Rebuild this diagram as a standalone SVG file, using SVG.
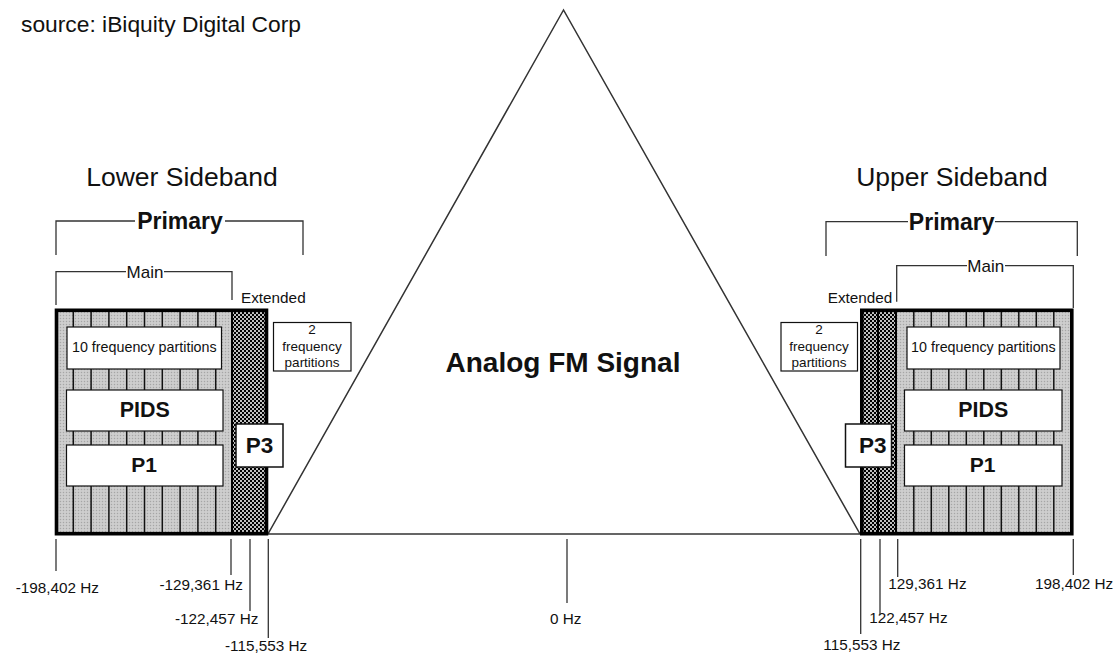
<svg xmlns="http://www.w3.org/2000/svg" width="1115" height="656" viewBox="0 0 1115 656">
<defs>
<pattern id="stipple" width="3" height="3" patternUnits="userSpaceOnUse">
<rect width="3" height="3" fill="#c8c8c8"/>
<rect x="0" y="0" width="1" height="1" fill="#a6a6a6"/>
<rect x="1.5" y="1.5" width="1" height="1" fill="#e2e2e2"/>
</pattern>
<pattern id="dots" width="4" height="4" patternUnits="userSpaceOnUse">
<rect width="4" height="4" fill="#000"/>
<circle cx="1" cy="1" r="1" fill="#fff"/>
<circle cx="3" cy="3" r="1" fill="#fff"/>
</pattern>
<style>
text{font-family:"Liberation Sans",Arial,sans-serif;fill:#111}
.b{font-weight:bold}
.mid{text-anchor:middle}
.ln{stroke:#333;stroke-width:1.3;fill:none}
.cell{stroke:#111;stroke-width:1.5}
.box{fill:#fff;stroke:#111;stroke-width:1.2}
.frame{fill:none;stroke:#000;stroke-width:3.6}
.hz{font-size:15.3px}
</style>
</defs>
<rect width="1115" height="656" fill="#fff"/>

<g id="source">
<text x="21" y="32" style="font-size:22.8px">source: iBiquity Digital Corp</text>
</g>

<g id="analog-fm">
<polygon points="563.5,10 268,534 860,534" fill="#fff" stroke="#333" stroke-width="1.5"/>
<text x="563" y="372" class="b mid" style="font-size:28px">Analog FM Signal</text>
</g>

<g id="lower-sideband">
<text x="182" y="186" class="mid" style="font-size:26.5px">Lower Sideband</text>
<text x="180" y="229" class="b mid" style="font-size:23px">Primary</text>
<text x="145" y="278" class="mid" style="font-size:17px">Main</text>
<text x="241" y="303" style="font-size:15.3px">Extended</text>
</g>

<g id="lower-block">
<rect x="56" y="310" width="176" height="224" fill="url(#stipple)"/>
<rect x="232" y="310" width="36" height="224" fill="url(#dots)"/>
<g class="cell">
<line x1="73.3" y1="310" x2="73.3" y2="534"/>
<line x1="91.1" y1="310" x2="91.1" y2="534"/>
<line x1="108.9" y1="310" x2="108.9" y2="534"/>
<line x1="126.7" y1="310" x2="126.7" y2="534"/>
<line x1="144.5" y1="310" x2="144.5" y2="534"/>
<line x1="162.3" y1="310" x2="162.3" y2="534"/>
<line x1="180.1" y1="310" x2="180.1" y2="534"/>
<line x1="197.9" y1="310" x2="197.9" y2="534"/>
<line x1="215.7" y1="310" x2="215.7" y2="534"/>
</g>
<line x1="232" y1="310" x2="232" y2="534" stroke="#000" stroke-width="2"/>
<rect x="56.5" y="310.3" width="210" height="223.4" class="frame"/>
</g>

<g id="lower-10-partitions">
<rect x="67" y="327" width="154.5" height="42" class="box"/>
<text x="144.3" y="352.3" class="mid" style="font-size:14.3px">10 frequency partitions</text>
</g>
<g id="lower-pids">
<rect x="66.5" y="390" width="156.5" height="41" class="box"/>
<text x="144.7" y="416.7" class="b mid" style="font-size:21.4px">PIDS</text>
</g>
<g id="lower-p1">
<rect x="66.5" y="445" width="156.5" height="41" class="box"/>
<text x="144" y="472.3" class="b mid" style="font-size:21px">P1</text>
</g>
<g id="lower-p3">
<rect x="236" y="424" width="47" height="43" class="box" style="stroke-width:1.5"/>
<text x="259.5" y="453.3" class="b mid" style="font-size:22.5px">P3</text>
</g>
<g id="lower-2-partitions">
<rect x="273.5" y="322.5" width="77.5" height="48.5" class="box"/>
<text x="312" y="334" class="mid" style="font-size:13.5px">2</text>
<text x="312" y="350.7" class="mid" style="font-size:13.5px">frequency</text>
<text x="312" y="366.7" class="mid" style="font-size:13.5px">partitions</text>
</g>

<g id="upper-sideband">
<text x="952" y="186" class="mid" style="font-size:26.5px">Upper Sideband</text>
<text x="951.7" y="230" class="b mid" style="font-size:23px">Primary</text>
<text x="985.7" y="272" class="mid" style="font-size:17px">Main</text>
<text x="827.7" y="303.3" style="font-size:15.3px">Extended</text>
</g>

<g id="upper-block">
<rect x="896" y="310" width="176" height="224" fill="url(#stipple)"/>
<rect x="860" y="310" width="36" height="224" fill="url(#dots)"/>
<g class="cell">
<line x1="913.8" y1="310" x2="913.8" y2="534"/>
<line x1="931.3" y1="310" x2="931.3" y2="534"/>
<line x1="948.8" y1="310" x2="948.8" y2="534"/>
<line x1="966.3" y1="310" x2="966.3" y2="534"/>
<line x1="983.8" y1="310" x2="983.8" y2="534"/>
<line x1="1001.3" y1="310" x2="1001.3" y2="534"/>
<line x1="1018.8" y1="310" x2="1018.8" y2="534"/>
<line x1="1036.3" y1="310" x2="1036.3" y2="534"/>
<line x1="1053.8" y1="310" x2="1053.8" y2="534"/>
</g>
<line x1="878" y1="310" x2="878" y2="534" stroke="#000" stroke-width="2"/>
<line x1="896" y1="310" x2="896" y2="534" stroke="#000" stroke-width="2"/>
<rect x="861.8" y="310.3" width="210" height="223.4" class="frame"/>
</g>

<g id="upper-10-partitions">
<rect x="907" y="327" width="153" height="42" class="box"/>
<text x="983.4" y="352.3" class="mid" style="font-size:14.3px">10 frequency partitions</text>
</g>
<g id="upper-pids">
<rect x="904.5" y="390" width="157.5" height="41" class="box"/>
<text x="983.3" y="416.7" class="b mid" style="font-size:21.4px">PIDS</text>
</g>
<g id="upper-p1">
<rect x="904.5" y="445" width="157.5" height="41" class="box"/>
<text x="982.7" y="472.3" class="b mid" style="font-size:21px">P1</text>
</g>
<g id="upper-p3">
<rect x="845.5" y="424" width="46" height="43" class="box" style="stroke-width:1.5"/>
<text x="872.7" y="452.7" class="b mid" style="font-size:22.5px">P3</text>
</g>
<g id="upper-2-partitions">
<rect x="781" y="322.5" width="76.5" height="48.5" class="box"/>
<text x="819" y="334" class="mid" style="font-size:13.5px">2</text>
<text x="819" y="350.7" class="mid" style="font-size:13.5px">frequency</text>
<text x="819" y="366.7" class="mid" style="font-size:13.5px">partitions</text>
</g>

<g id="frequency-labels" class="hz">
<text x="99" y="592.5" style="text-anchor:end">-198,402 Hz</text>
<text x="159.5" y="589.5">-129,361 Hz</text>
<text x="175" y="623.5">-122,457 Hz</text>
<text x="225" y="651">-115,553 Hz</text>
<text x="550" y="623.5">0 Hz</text>
<text x="823.3" y="650">115,553 Hz</text>
<text x="869.3" y="623.3">122,457 Hz</text>
<text x="888.3" y="589.3">129,361 Hz</text>
<text x="1035" y="589.3">198,402 Hz</text>
</g>

<g id="connectors" class="ln">
<path d="M56,255 V221 H135 M225,221 H303 V255"/>
<path d="M56,305 V271.7 H126 M164,271.7 H232 V300"/>
<path d="M826,256 V221.7 H908 M995,221.7 H1077.3 V256"/>
<path d="M896.7,301.7 V265.7 H967 M1005,265.7 H1073.3 V308"/>
<line x1="56" y1="539" x2="56" y2="571"/>
<line x1="231" y1="539" x2="231" y2="575"/>
<line x1="250" y1="539" x2="250" y2="611"/>
<line x1="268.3" y1="539" x2="268.3" y2="638"/>
<line x1="567" y1="539" x2="567" y2="603"/>
<line x1="860.7" y1="539" x2="860.7" y2="634"/>
<line x1="880" y1="539" x2="880" y2="615"/>
<line x1="897.7" y1="539" x2="897.7" y2="577"/>
<line x1="1073.3" y1="539" x2="1073.3" y2="575"/>
</g>
</svg>
